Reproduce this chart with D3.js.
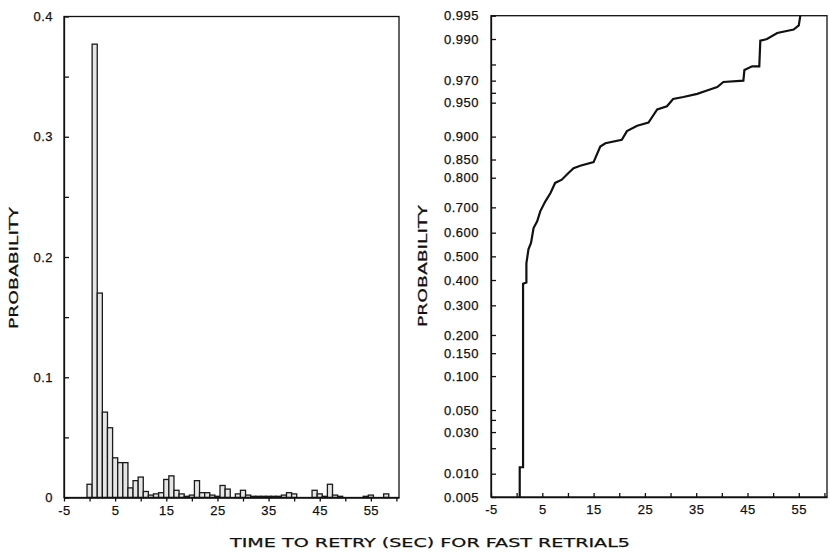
<!DOCTYPE html>
<html>
<head>
<meta charset="utf-8">
<script src="https://cdn.jsdelivr.net/npm/d3@7/dist/d3.min.js"></script>
<style>
  html, body { margin: 0; padding: 0; background: #fff; }
  svg { display: block; font-family: "DejaVu Sans", sans-serif; }
  .axis text { fill: #111; font-size: 13px; letter-spacing: 0.5px; stroke: #111; stroke-width: 0.25px; }
  .axis line, .axis path { stroke: #111; stroke-width: 1.3; }
  .title { fill: #111; stroke: #111; stroke-width: 0.25px; }
</style>
</head>
<body>
<div id="chart"></div>
<script>
// histogram: probability per 1-second bin, bins centred on 0,1,2,...,59 sec
const binSec = d3.range(0, 60);
const binProb = [
  0.011, 0.377, 0.170, 0.071, 0.058, 0.033, 0.029, 0.029, 0.008, 0.014,
  0.017, 0.005, 0.002, 0.003, 0.004, 0.015, 0.018, 0.006, 0.003, 0.001,
  0.002, 0.014, 0.004, 0.004, 0.002, 0.001, 0.010, 0.007, 0.000, 0.003,
  0.006, 0.002, 0.001, 0.001, 0.001, 0.001, 0.001, 0.001, 0.002, 0.004,
  0.003, 0.000, 0.000, 0.000, 0.006, 0.003, 0.001, 0.011, 0.002, 0.001,
  0.000, 0.000, 0.000, 0.000, 0.001, 0.002, 0.000, 0.000, 0.003, 0.000
];

// cumulative distribution
const cdfTime = [0.6, 0.6, 1.25, 1.25, 1.9, 1.9, 2.3, 2.8, 3.3, 4.0, 4.6, 5.6, 6.6, 7.5, 8.8,
  10.1, 11.1, 12.4, 15.0, 16.3, 17.3, 20.5, 21.5, 23.5, 25.7, 27.4, 29.3, 30.5, 32.5, 35.2,
  37.1, 39.1, 40.3, 44.2, 44.4, 45.9, 47.3, 47.5, 48.8, 50.8, 54.0, 55.0, 55.3];
const cdfProb = [0.005, 0.012, 0.012, 0.385, 0.39, 0.47, 0.53, 0.557, 0.619, 0.646, 0.685,
  0.722, 0.751, 0.784, 0.794, 0.814, 0.827, 0.834, 0.8435, 0.880, 0.887, 0.894, 0.910, 0.919,
  0.924, 0.942, 0.946, 0.954, 0.956, 0.959, 0.962, 0.965, 0.969, 0.970, 0.977, 0.979, 0.979,
  0.9895, 0.990, 0.9916, 0.9924, 0.9933, 0.995];

// tick labels
const xTicks = d3.range(-5, 61, 5);
const xLabels = [-5, 5, 15, 25, 35, 45, 55];
const histYTicks = [0, 0.05, 0.1, 0.15, 0.2, 0.25, 0.3, 0.35, 0.4];
const histYLabels = { 0: '0', 0.1: '0.1', 0.2: '0.2', 0.3: '0.3', 0.4: '0.4' };
const probTicks = [0.005, 0.01, 0.02, 0.03, 0.04, 0.05, 0.1, 0.15, 0.2, 0.3, 0.4, 0.5, 0.6,
  0.7, 0.8, 0.85, 0.9, 0.95, 0.96, 0.97, 0.98, 0.99, 0.995];
const probLabels = ['0.005', '0.010', '', '0.030', '', '0.050', '0.100', '0.150', '0.200',
  '0.300', '0.400', '0.500', '0.600', '0.700', '0.800', '0.850', '0.900', '0.950', '', '0.970',
  '', '0.990', '0.995'];

const xTitle = 'TIME TO RETRY (SEC) FOR FAST RETRIAL5';
const yTitle = 'PROBABILITY';

// inverse normal cdf (Acklam) for the probability-paper axis
function probit(p) {
    const a = [-3.969683028665376e+01, 2.209460984245205e+02, -2.759285104469687e+02, 1.383577518672690e+02, -3.066479806614716e+01, 2.506628277459239e+00];
    const b = [-5.447609879822406e+01, 1.615858368580409e+02, -1.556989798598866e+02, 6.680131188771972e+01, -1.328068155288572e+01];
    const c = [-7.784894002430293e-03, -3.223964580411365e-01, -2.400758277161838e+00, -2.549732539343734e+00, 4.374664141464968e+00, 2.938163982698783e+00];
    const d = [7.784695709041462e-03, 3.224671290700398e-01, 2.445134137142996e+00, 3.754408661907416e+00];
    const pl = 0.02425;
    if (p < pl) {
        const q = Math.sqrt(-2 * Math.log(p));
        return (((((c[0] * q + c[1]) * q + c[2]) * q + c[3]) * q + c[4]) * q + c[5]) / ((((d[0] * q + d[1]) * q + d[2]) * q + d[3]) * q + 1);
    }
    if (p > 1 - pl) {
        const q = Math.sqrt(-2 * Math.log(1 - p));
        return -(((((c[0] * q + c[1]) * q + c[2]) * q + c[3]) * q + c[4]) * q + c[5]) / ((((d[0] * q + d[1]) * q + d[2]) * q + d[3]) * q + 1);
    }
    const q = p - 0.5, r = q * q;
    return (((((a[0] * r + a[1]) * r + a[2]) * r + a[3]) * r + a[4]) * r + a[5]) * q / (((((b[0] * r + b[1]) * r + b[2]) * r + b[3]) * r + b[4]) * r + 1);
}

const W = 830, H = 552;
const svg = d3.select('#chart').append('svg').attr('width', W).attr('height', H);

// ---------- left panel: histogram ----------
const L = { x0: 64, x1: 399, y0: 16.5, y1: 497.5 };
const xL = d3.scaleLinear().domain([-5, 60.5]).range([L.x0, L.x1]);
const yL = d3.scaleLinear().domain([0, 0.4]).range([L.y1, L.y0]);

svg.append('g')
    .selectAll('rect')
    .data(binSec.filter((s, i) => binProb[i] > 0))
    .join('rect')
    .attr('x', s => xL(s - 0.5))
    .attr('y', s => yL(binProb[s]))
    .attr('width', s => xL(s + 0.5) - xL(s - 0.5))
    .attr('height', s => yL(0) - yL(binProb[s]))
    .attr('fill', '#e6e6e6')
    .attr('stroke', '#1a1a1a')
    .attr('stroke-width', 1.3);

svg.append('g')
    .attr('class', 'axis')
    .attr('transform', `translate(0,${L.y1})`)
    .call(d3.axisBottom(xL).tickValues(xTicks).tickSize(4).tickSizeOuter(0).tickPadding(4)
        .tickFormat(d => xLabels.includes(d) ? String(d) : ''));

svg.append('g')
    .attr('class', 'axis')
    .attr('transform', `translate(${L.x0},0)`)
    .call(d3.axisLeft(yL).tickValues(histYTicks).tickSize(-5).tickSizeOuter(0).tickPadding(11)
        .tickFormat(d => histYLabels[d] || ''));

svg.append('rect')
    .attr('x', L.x0).attr('y', L.y0)
    .attr('width', L.x1 - L.x0).attr('height', L.y1 - L.y0)
    .attr('fill', 'none').attr('stroke', '#111').attr('stroke-width', 1.3);

// ---------- right panel: cumulative on probability scale ----------
const R = { x0: 491, x1: 827, y0: 15.7, y1: 497 };
const xR = d3.scaleLinear().domain([-5, 60.5]).range([R.x0, R.x1]);
const zR = d3.scaleLinear().domain([probit(0.005), probit(0.995)]).range([R.y1, R.y0]);

svg.append('g')
    .attr('class', 'axis')
    .attr('transform', `translate(0,${R.y1})`)
    .call(d3.axisBottom(xR).tickValues(xTicks).tickSize(-4).tickSizeOuter(0).tickPadding(8)
        .tickFormat(d => xLabels.includes(d) ? String(d) : ''));

svg.append('g')
    .attr('class', 'axis')
    .attr('transform', `translate(${R.x0},0)`)
    .call(d3.axisLeft(zR).tickValues(probTicks.map(probit)).tickSize(-5).tickSizeOuter(0).tickPadding(12)
        .tickFormat((d, i) => probLabels[i]));

svg.append('rect')
    .attr('x', R.x0).attr('y', R.y0)
    .attr('width', R.x1 - R.x0).attr('height', R.y1 - R.y0)
    .attr('fill', 'none').attr('stroke', '#111').attr('stroke-width', 1.3);

const cdfLine = d3.line()
    .x(i => xR(cdfTime[i]))
    .y(i => zR(probit(cdfProb[i])));

svg.append('path')
    .datum(d3.range(cdfTime.length))
    .attr('d', cdfLine)
    .attr('fill', 'none')
    .attr('stroke', '#111')
    .attr('stroke-width', 2.2)
    .attr('stroke-linejoin', 'miter');

// ---------- titles ----------
svg.append('text')
    .attr('class', 'title')
    .attr('transform', `translate(18,268) rotate(-90)`)
    .attr('text-anchor', 'middle')
    .attr('font-size', 13)
    .attr('textLength', 122).attr('lengthAdjust', 'spacingAndGlyphs')
    .text(yTitle);

svg.append('text')
    .attr('class', 'title')
    .attr('transform', `translate(427,266) rotate(-90)`)
    .attr('text-anchor', 'middle')
    .attr('font-size', 13)
    .attr('textLength', 122).attr('lengthAdjust', 'spacingAndGlyphs')
    .text(yTitle);

svg.append('text')
    .attr('class', 'title')
    .attr('x', 430).attr('y', 547)
    .attr('text-anchor', 'middle')
    .attr('font-size', 13)
    .attr('textLength', 400).attr('lengthAdjust', 'spacingAndGlyphs')
    .text(xTitle);
</script>
</body>
</html>
